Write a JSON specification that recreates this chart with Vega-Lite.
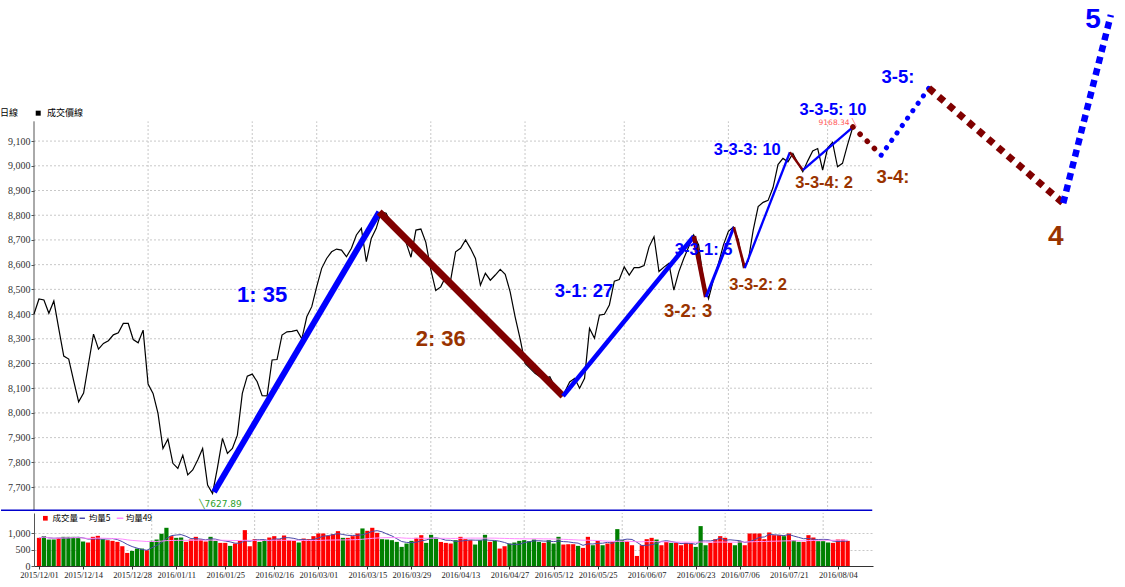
{
  "$schema": "https://vega.github.io/schema/vega-lite/v6.json",
  "background": "white",
  "padding": 0,
  "spacing": 2,
  "bounds": "flush",
  "config": {"view": {"stroke": null}, "font": "Liberation Sans", "axis": {"labelOverlap": false}},
  "resolve": {"scale": {"x": "independent", "y": "independent", "color": "independent", "strokeWidth": "independent"}},
  "datasets": {
    "price": [
      {"d":0,"p":8400},{"d":1,"p":8461},{"d":2,"p":8457},{"d":3,"p":8403},{"d":4,"p":8453},{"d":5,"p":8340},{"d":6,"p":8230},{"d":7,"p":8218},{"d":8,"p":8130},{"d":9,"p":8045},
      {"d":10,"p":8080},{"d":11,"p":8200},{"d":12,"p":8319},{"d":13,"p":8258},{"d":14,"p":8281},{"d":15,"p":8292},{"d":16,"p":8316},{"d":17,"p":8324},{"d":18,"p":8362},{"d":19,"p":8362},
      {"d":20,"p":8297},{"d":21,"p":8284},{"d":22,"p":8335},{"d":23,"p":8117},{"d":24,"p":8079},{"d":25,"p":7998},{"d":26,"p":7856},{"d":27,"p":7894},{"d":28,"p":7796},{"d":29,"p":7775},
      {"d":30,"p":7829},{"d":31,"p":7749},{"d":32,"p":7769},{"d":33,"p":7809},{"d":34,"p":7856},{"d":35,"p":7708},{"d":36,"p":7674},{"d":37,"p":7780},{"d":38,"p":7897},{"d":39,"p":7836},
      {"d":40,"p":7856},{"d":41,"p":7910},{"d":42,"p":8079},{"d":43,"p":8149},{"d":44,"p":8157},{"d":45,"p":8126},{"d":46,"p":8070},{"d":47,"p":8069},{"d":48,"p":8214},{"d":49,"p":8216},
      {"d":50,"p":8315},{"d":51,"p":8328},{"d":52,"p":8330},{"d":53,"p":8335},{"d":54,"p":8300},{"d":55,"p":8389},{"d":56,"p":8430},{"d":57,"p":8511},{"d":58,"p":8585},{"d":59,"p":8625},
      {"d":60,"p":8652},{"d":61,"p":8663},{"d":62,"p":8659},{"d":63,"p":8632},{"d":64,"p":8666},{"d":65,"p":8720},{"d":66,"p":8747},{"d":67,"p":8612},{"d":68,"p":8706},{"d":69,"p":8747},
      {"d":70,"p":8814},{"d":71,"p":8808},{"d":72,"p":8765},{"d":73,"p":8745},{"d":74,"p":8720},{"d":75,"p":8690},{"d":76,"p":8630},{"d":77,"p":8740},{"d":78,"p":8744},{"d":79,"p":8690},
      {"d":80,"p":8580},{"d":81,"p":8495},{"d":82,"p":8510},{"d":83,"p":8551},{"d":84,"p":8537},{"d":85,"p":8652},{"d":86,"p":8666},{"d":87,"p":8700},{"d":88,"p":8666},{"d":89,"p":8625},
      {"d":90,"p":8517},{"d":91,"p":8565},{"d":92,"p":8537},{"d":93,"p":8558},{"d":94,"p":8581},{"d":95,"p":8561},{"d":96,"p":8490},{"d":97,"p":8389},{"d":98,"p":8301},{"d":99,"p":8200},
      {"d":100,"p":8180},{"d":101,"p":8160},{"d":102,"p":8146},{"d":103,"p":8140},{"d":104,"p":8146},{"d":105,"p":8106},{"d":106,"p":8072},{"d":107,"p":8085},{"d":108,"p":8125},{"d":109,"p":8140},
      {"d":110,"p":8100},{"d":111,"p":8140},{"d":112,"p":8342},{"d":113,"p":8302},{"d":114,"p":8396},{"d":115,"p":8399},{"d":116,"p":8437},{"d":117,"p":8533},{"d":118,"p":8540},{"d":119,"p":8591},
      {"d":120,"p":8558},{"d":121,"p":8588},{"d":122,"p":8588},{"d":123,"p":8596},{"d":124,"p":8672},{"d":125,"p":8713},{"d":126,"p":8572},{"d":127,"p":8590},{"d":128,"p":8605},{"d":129,"p":8497},
      {"d":130,"p":8571},{"d":131,"p":8625},{"d":132,"p":8672},{"d":133,"p":8720},{"d":134,"p":8680},{"d":135,"p":8530},{"d":136,"p":8462},{"d":137,"p":8540},{"d":138,"p":8605},{"d":139,"p":8680},
      {"d":140,"p":8735},{"d":141,"p":8752},{"d":142,"p":8700},{"d":143,"p":8590},{"d":144,"p":8615},{"d":145,"p":8740},{"d":146,"p":8835},{"d":147,"p":8852},{"d":148,"p":8860},{"d":149,"p":8912},
      {"d":150,"p":9005},{"d":151,"p":9030},{"d":152,"p":9016},{"d":153,"p":9050},{"d":154,"p":9010},{"d":155,"p":8976},{"d":156,"p":9020},{"d":157,"p":9060},{"d":158,"p":9070},{"d":159,"p":8983},
      {"d":160,"p":9072},{"d":161,"p":9095},{"d":162,"p":8996},{"d":163,"p":9010},{"d":164,"p":9084},{"d":165,"p":9151}
    ],
    "vol": [
      {"d":0,"v":866,"c":"R"},{"d":1,"v":918,"c":"G"},{"d":2,"v":814,"c":"G"},{"d":3,"v":814,"c":"G"},{"d":4,"v":866,"c":"R"},{"d":5,"v":897,"c":"G"},{"d":6,"v":897,"c":"G"},{"d":7,"v":897,"c":"G"},{"d":8,"v":876,"c":"G"},{"d":9,"v":753,"c":"G"},
      {"d":10,"v":722,"c":"R"},{"d":11,"v":897,"c":"R"},{"d":12,"v":928,"c":"R"},{"d":13,"v":825,"c":"G"},{"d":14,"v":794,"c":"R"},{"d":15,"v":773,"c":"R"},{"d":16,"v":742,"c":"R"},{"d":17,"v":608,"c":"R"},{"d":18,"v":402,"c":"R"},{"d":19,"v":464,"c":"G"},
      {"d":20,"v":536,"c":"G"},{"d":21,"v":536,"c":"G"},{"d":22,"v":485,"c":"R"},{"d":23,"v":773,"c":"G"},{"d":24,"v":814,"c":"G"},{"d":25,"v":990,"c":"G"},{"d":26,"v":1175,"c":"G"},{"d":27,"v":918,"c":"R"},{"d":28,"v":866,"c":"G"},{"d":29,"v":876,"c":"G"},
      {"d":30,"v":742,"c":"R"},{"d":31,"v":814,"c":"R"},{"d":32,"v":897,"c":"R"},{"d":33,"v":814,"c":"R"},{"d":34,"v":753,"c":"R"},{"d":35,"v":897,"c":"G"},{"d":36,"v":773,"c":"G"},{"d":37,"v":711,"c":"R"},{"d":38,"v":711,"c":"R"},{"d":39,"v":619,"c":"G"},
      {"d":40,"v":691,"c":"R"},{"d":41,"v":773,"c":"R"},{"d":42,"v":1103,"c":"R"},{"d":43,"v":608,"c":"R"},{"d":44,"v":825,"c":"R"},{"d":45,"v":742,"c":"G"},{"d":46,"v":794,"c":"G"},{"d":47,"v":876,"c":"R"},{"d":48,"v":918,"c":"R"},{"d":49,"v":825,"c":"R"},
      {"d":50,"v":938,"c":"R"},{"d":51,"v":794,"c":"R"},{"d":52,"v":773,"c":"R"},{"d":53,"v":722,"c":"G"},{"d":54,"v":845,"c":"R"},{"d":55,"v":825,"c":"R"},{"d":56,"v":918,"c":"R"},{"d":57,"v":1000,"c":"R"},{"d":58,"v":1000,"c":"R"},{"d":59,"v":928,"c":"R"},
      {"d":60,"v":979,"c":"R"},{"d":61,"v":1072,"c":"R"},{"d":62,"v":866,"c":"G"},{"d":63,"v":866,"c":"R"},{"d":64,"v":918,"c":"R"},{"d":65,"v":1000,"c":"R"},{"d":66,"v":1155,"c":"G"},{"d":67,"v":1082,"c":"R"},{"d":68,"v":1175,"c":"R"},{"d":69,"v":1020,"c":"R"},
      {"d":70,"v":825,"c":"G"},{"d":71,"v":814,"c":"G"},{"d":72,"v":794,"c":"G"},{"d":73,"v":742,"c":"G"},{"d":74,"v":588,"c":"G"},{"d":75,"v":691,"c":"G"},{"d":76,"v":773,"c":"G"},{"d":77,"v":866,"c":"R"},{"d":78,"v":948,"c":"R"},{"d":79,"v":711,"c":"G"},
      {"d":80,"v":959,"c":"G"},{"d":81,"v":845,"c":"G"},{"d":82,"v":740,"c":"R"},{"d":83,"v":711,"c":"R"},{"d":84,"v":691,"c":"R"},{"d":85,"v":794,"c":"G"},{"d":86,"v":897,"c":"R"},{"d":87,"v":825,"c":"R"},{"d":88,"v":794,"c":"R"},{"d":89,"v":660,"c":"G"},
      {"d":90,"v":794,"c":"G"},{"d":91,"v":959,"c":"G"},{"d":92,"v":742,"c":"R"},{"d":93,"v":773,"c":"G"},{"d":94,"v":536,"c":"R"},{"d":95,"v":608,"c":"R"},{"d":96,"v":691,"c":"G"},{"d":97,"v":722,"c":"G"},{"d":98,"v":773,"c":"G"},{"d":99,"v":794,"c":"G"},
      {"d":100,"v":763,"c":"G"},{"d":101,"v":814,"c":"G"},{"d":102,"v":742,"c":"G"},{"d":103,"v":711,"c":"R"},{"d":104,"v":794,"c":"G"},{"d":105,"v":691,"c":"G"},{"d":106,"v":897,"c":"G"},{"d":107,"v":660,"c":"R"},{"d":108,"v":670,"c":"R"},{"d":109,"v":670,"c":"R"},
      {"d":110,"v":619,"c":"G"},{"d":111,"v":557,"c":"R"},{"d":112,"v":897,"c":"R"},{"d":113,"v":639,"c":"G"},{"d":114,"v":773,"c":"R"},{"d":115,"v":639,"c":"G"},{"d":116,"v":691,"c":"R"},{"d":117,"v":742,"c":"R"},{"d":118,"v":1134,"c":"G"},{"d":119,"v":794,"c":"G"},
      {"d":120,"v":773,"c":"R"},{"d":121,"v":639,"c":"R"},{"d":122,"v":309,"c":"R"},{"d":123,"v":639,"c":"R"},{"d":124,"v":825,"c":"R"},{"d":125,"v":866,"c":"R"},{"d":126,"v":814,"c":"G"},{"d":127,"v":639,"c":"R"},{"d":128,"v":742,"c":"R"},{"d":129,"v":711,"c":"G"},
      {"d":130,"v":711,"c":"R"},{"d":131,"v":639,"c":"R"},{"d":132,"v":711,"c":"R"},{"d":133,"v":691,"c":"R"},{"d":134,"v":588,"c":"G"},{"d":135,"v":1227,"c":"G"},{"d":136,"v":639,"c":"G"},{"d":137,"v":711,"c":"R"},{"d":138,"v":825,"c":"R"},{"d":139,"v":918,"c":"R"},
      {"d":140,"v":866,"c":"R"},{"d":141,"v":711,"c":"R"},{"d":142,"v":639,"c":"G"},{"d":143,"v":763,"c":"G"},{"d":144,"v":639,"c":"R"},{"d":145,"v":1000,"c":"R"},{"d":146,"v":1000,"c":"R"},{"d":147,"v":1000,"c":"R"},{"d":148,"v":825,"c":"R"},{"d":149,"v":1031,"c":"R"},
      {"d":150,"v":948,"c":"R"},{"d":151,"v":948,"c":"R"},{"d":152,"v":918,"c":"G"},{"d":153,"v":1000,"c":"R"},{"d":154,"v":794,"c":"G"},{"d":155,"v":742,"c":"G"},{"d":156,"v":742,"c":"R"},{"d":157,"v":948,"c":"R"},{"d":158,"v":876,"c":"R"},{"d":159,"v":763,"c":"G"},
      {"d":160,"v":763,"c":"G"},{"d":161,"v":722,"c":"G"},{"d":162,"v":711,"c":"R"},{"d":163,"v":814,"c":"R"},{"d":164,"v":814,"c":"R"},{"d":165,"v":773,"c":"R"}
    ],
    "waves": [
      {"seg":"1","d":36.3,"p":7680},{"seg":"1","d":69.6,"p":8813},
      {"seg":"2","d":69.6,"p":8813},{"seg":"2","d":106.65,"p":8068},
      {"seg":"3-1","d":106.65,"p":8068},{"seg":"3-1","d":133.06,"p":8715},
      {"seg":"3-2","d":133.06,"p":8715},{"seg":"3-2","d":135.5,"p":8469},
      {"seg":"3-3-1","d":135.5,"p":8469},{"seg":"3-3-1","d":141.1,"p":8752},
      {"seg":"3-3-2","d":141.1,"p":8752},{"seg":"3-3-2","d":143.3,"p":8586},
      {"seg":"3-3-3","d":143.3,"p":8586},{"seg":"3-3-3","d":152.4,"p":9055},
      {"seg":"3-3-4","d":152.4,"p":9055},{"seg":"3-3-4","d":155,"p":8983},
      {"seg":"3-3-5","d":155,"p":8983},{"seg":"3-3-5","d":165.1,"p":9157},
      {"seg":"3-4","d":165.1,"p":9157},{"seg":"3-4","d":170.8,"p":9043},
      {"seg":"3-5","d":170.8,"p":9043},{"seg":"3-5","d":180.4,"p":9314},
      {"seg":"4","d":180.4,"p":9314},{"seg":"4","d":207.5,"p":8849},
      {"seg":"5","d":207.5,"p":8849},{"seg":"5","d":217.1,"p":9610}
    ],
    "labels": [
      {"t":"1: 35","d":46,"p":8477,"k":"up","lvl":"a"},
      {"t":"2: 36","d":82,"p":8299,"k":"down","lvl":"a"},
      {"t":"3-1: 27","d":110.9,"p":8493,"k":"up","lvl":"b"},
      {"t":"3-2: 3","d":131.9,"p":8412,"k":"down","lvl":"b"},
      {"t":"3-3-1: 5","d":135.0,"p":8659,"k":"up","lvl":"c"},
      {"t":"3-3-2: 2","d":146,"p":8517,"k":"down","lvl":"c"},
      {"t":"3-3-3: 10","d":143.8,"p":9064,"k":"up","lvl":"c"},
      {"t":"3-3-4: 2","d":159.3,"p":8930,"k":"down","lvl":"c"},
      {"t":"3-3-5: 10","d":161.1,"p":9225,"k":"up","lvl":"c"},
      {"t":"3-4:","d":173.2,"p":8954,"k":"down","lvl":"b"},
      {"t":"3-5:","d":174.2,"p":9359,"k":"up","lvl":"b"},
      {"t":"4","d":206,"p":8711,"k":"down","lvl":"d"},
      {"t":"5","d":213.5,"p":9590,"k":"up","lvl":"d"}
    ],
    "hgrid": [{"p":7700},{"p":7800},{"p":7900},{"p":8000},{"p":8100},{"p":8200},{"p":8300},{"p":8400},{"p":8500},{"p":8600},{"p":8700},{"p":8800},{"p":8900},{"p":9000},{"p":9100}],
    "vgrid": [{"d":23},{"d":44},{"d":57},{"d":80},{"d":99},{"d":119},{"d":140},{"d":160}]
  },
  "vconcat": [
    {
      "width": 1092,
      "height": 511,
      "resolve": {"scale": {"color": "independent", "strokeWidth": "independent"}},
      "layer": [
        {"data": {"name": "hgrid"}, "mark": {"type": "rule", "color": "#c8c8c8", "strokeDash": [2, 2], "strokeWidth": 1},
         "encoding": {
           "x": {"datum": 0, "type": "quantitative", "scale": {"domain": [0, 220.16], "nice": false, "zero": false}, "axis": null},
           "x2": {"datum": 169},
           "y": {"field": "p", "type": "quantitative", "title": null, "scale": {"domain": [7603, 9671], "nice": false, "zero": false},
                 "axis": {"values": [7700,7800,7900,8000,8100,8200,8300,8400,8500,8600,8700,8800,8900,9000,9100], "labelExpr": "format(datum.value, ',')", "labelOverlap": false, "domain": false, "grid": false, "ticks": true, "tickSize": 3, "tickColor": "#555555", "labelFont": "Liberation Serif", "labelFontSize": 10, "labelColor": "#333333", "labelPadding": 1, "title": null}}}},
        {"data": {"name": "vgrid"}, "mark": {"type": "rule", "color": "#c8c8c8", "strokeDash": [2, 2], "strokeWidth": 1},
         "encoding": {
           "x": {"field": "d", "type": "quantitative", "title": null, "scale": {"domain": [0, 220.16], "nice": false, "zero": false}, "axis": null},
           "y": {"datum": 7603, "type": "quantitative", "scale": {"domain": [7603, 9671], "nice": false, "zero": false},
                 "axis": {"values": [7700,7800,7900,8000,8100,8200,8300,8400,8500,8600,8700,8800,8900,9000,9100], "labelExpr": "format(datum.value, ',')", "labelOverlap": false, "domain": false, "grid": false, "ticks": true, "tickSize": 3, "tickColor": "#555555", "labelFont": "Liberation Serif", "labelFontSize": 10, "labelColor": "#333333", "labelPadding": 1, "title": null}},
           "y2": {"datum": 9180}}},
        {"data": {"values": [{}]}, "mark": {"type": "rule", "color": "#555555", "strokeWidth": 1},
         "encoding": {
           "x": {"datum": 0, "type": "quantitative", "scale": {"domain": [0, 220.16], "nice": false, "zero": false}, "axis": null},
           "y": {"datum": 7603, "type": "quantitative", "scale": {"domain": [7603, 9671], "nice": false, "zero": false},
                 "axis": {"values": [7700,7800,7900,8000,8100,8200,8300,8400,8500,8600,8700,8800,8900,9000,9100], "labelExpr": "format(datum.value, ',')", "labelOverlap": false, "domain": false, "grid": false, "ticks": true, "tickSize": 3, "tickColor": "#555555", "labelFont": "Liberation Serif", "labelFontSize": 10, "labelColor": "#333333", "labelPadding": 1, "title": null}},
           "y2": {"datum": 9180}}},
        {"data": {"values": [{}]}, "mark": {"type": "rule", "color": "#0000cc", "strokeWidth": 1.5},
         "encoding": {
           "x": {"datum": -6.65, "type": "quantitative", "scale": {"domain": [0, 220.16], "nice": false, "zero": false}, "axis": null},
           "x2": {"datum": 169},
           "y": {"datum": 7606, "type": "quantitative", "scale": {"domain": [7603, 9671], "nice": false, "zero": false},
                 "axis": {"values": [7700,7800,7900,8000,8100,8200,8300,8400,8500,8600,8700,8800,8900,9000,9100], "labelExpr": "format(datum.value, ',')", "labelOverlap": false, "domain": false, "grid": false, "ticks": true, "tickSize": 3, "tickColor": "#555555", "labelFont": "Liberation Serif", "labelFontSize": 10, "labelColor": "#333333", "labelPadding": 1, "title": null}}}},
        {"data": {"name": "price"}, "mark": {"type": "line", "color": "black", "strokeWidth": 1.2},
         "encoding": {
           "x": {"field": "d", "type": "quantitative", "title": null, "scale": {"domain": [0, 220.16], "nice": false, "zero": false}, "axis": null},
           "y": {"field": "p", "type": "quantitative", "title": null, "scale": {"domain": [7603, 9671], "nice": false, "zero": false},
                 "axis": {"values": [7700,7800,7900,8000,8100,8200,8300,8400,8500,8600,8700,8800,8900,9000,9100], "labelExpr": "format(datum.value, ',')", "labelOverlap": false, "domain": false, "grid": false, "ticks": true, "tickSize": 3, "tickColor": "#555555", "labelFont": "Liberation Serif", "labelFontSize": 10, "labelColor": "#333333", "labelPadding": 1, "title": null}}}},
        {"data": {"name": "waves"}, "transform": [{"filter": "indexof(['3-4','3-5','4','5'], datum.seg) < 0"}],
         "mark": {"type": "line"},
         "encoding": {
           "x": {"field": "d", "type": "quantitative", "title": null, "scale": {"domain": [0, 220.16], "nice": false, "zero": false}, "axis": null},
           "y": {"field": "p", "type": "quantitative", "title": null, "scale": {"domain": [7603, 9671], "nice": false, "zero": false},
                 "axis": {"values": [7700,7800,7900,8000,8100,8200,8300,8400,8500,8600,8700,8800,8900,9000,9100], "labelExpr": "format(datum.value, ',')", "labelOverlap": false, "domain": false, "grid": false, "ticks": true, "tickSize": 3, "tickColor": "#555555", "labelFont": "Liberation Serif", "labelFontSize": 10, "labelColor": "#333333", "labelPadding": 1, "title": null}},
           "color": {"field": "seg", "type": "nominal", "legend": null,
                     "scale": {"domain": ["1","2","3-1","3-2","3-3-1","3-3-2","3-3-3","3-3-4","3-3-5"], "range": ["#0000ff","#800000","#0000ff","#800000","#0000ff","#800000","#0000ff","#800000","#0000ff"]}},
           "strokeWidth": {"field": "seg", "type": "nominal", "legend": null,
                     "scale": {"type": "ordinal", "domain": ["1","2","3-1","3-2","3-3-1","3-3-2","3-3-3","3-3-4","3-3-5"], "range": [6, 7, 4.6, 4.5, 3, 2.7, 2.3, 2.3, 2.3]}}
         }},
        {"data": {"name": "waves"}, "transform": [{"filter": "datum.seg == '3-4'"}],
         "mark": {"type": "line", "color": "#800000", "strokeWidth": 5.5, "strokeDash": [0.1, 10], "strokeCap": "round"},
         "encoding": {
           "x": {"field": "d", "type": "quantitative", "title": null, "scale": {"domain": [0, 220.16], "nice": false, "zero": false}, "axis": null},
           "y": {"field": "p", "type": "quantitative", "title": null, "scale": {"domain": [7603, 9671], "nice": false, "zero": false},
                 "axis": {"values": [7700,7800,7900,8000,8100,8200,8300,8400,8500,8600,8700,8800,8900,9000,9100], "labelExpr": "format(datum.value, ',')", "labelOverlap": false, "domain": false, "grid": false, "ticks": true, "tickSize": 3, "tickColor": "#555555", "labelFont": "Liberation Serif", "labelFontSize": 10, "labelColor": "#333333", "labelPadding": 1, "title": null}}}},
        {"data": {"name": "waves"}, "transform": [{"filter": "datum.seg == '3-5'"}],
         "mark": {"type": "line", "color": "#0000ff", "strokeWidth": 5, "strokeDash": [0.1, 9], "strokeCap": "round"},
         "encoding": {
           "x": {"field": "d", "type": "quantitative", "title": null, "scale": {"domain": [0, 220.16], "nice": false, "zero": false}, "axis": null},
           "y": {"field": "p", "type": "quantitative", "title": null, "scale": {"domain": [7603, 9671], "nice": false, "zero": false},
                 "axis": {"values": [7700,7800,7900,8000,8100,8200,8300,8400,8500,8600,8700,8800,8900,9000,9100], "labelExpr": "format(datum.value, ',')", "labelOverlap": false, "domain": false, "grid": false, "ticks": true, "tickSize": 3, "tickColor": "#555555", "labelFont": "Liberation Serif", "labelFontSize": 10, "labelColor": "#333333", "labelPadding": 1, "title": null}}}},
        {"data": {"name": "waves"}, "transform": [{"filter": "datum.seg == '4'"}],
         "mark": {"type": "line", "color": "#800000", "strokeWidth": 7, "strokeDash": [7, 6]},
         "encoding": {
           "x": {"field": "d", "type": "quantitative", "title": null, "scale": {"domain": [0, 220.16], "nice": false, "zero": false}, "axis": null},
           "y": {"field": "p", "type": "quantitative", "title": null, "scale": {"domain": [7603, 9671], "nice": false, "zero": false},
                 "axis": {"values": [7700,7800,7900,8000,8100,8200,8300,8400,8500,8600,8700,8800,8900,9000,9100], "labelExpr": "format(datum.value, ',')", "labelOverlap": false, "domain": false, "grid": false, "ticks": true, "tickSize": 3, "tickColor": "#555555", "labelFont": "Liberation Serif", "labelFontSize": 10, "labelColor": "#333333", "labelPadding": 1, "title": null}}}},
        {"data": {"name": "waves"}, "transform": [{"filter": "datum.seg == '5'"}],
         "mark": {"type": "line", "color": "#0000ff", "strokeWidth": 6.5, "strokeDash": [7, 5]},
         "encoding": {
           "x": {"field": "d", "type": "quantitative", "title": null, "scale": {"domain": [0, 220.16], "nice": false, "zero": false}, "axis": null},
           "y": {"field": "p", "type": "quantitative", "title": null, "scale": {"domain": [7603, 9671], "nice": false, "zero": false},
                 "axis": {"values": [7700,7800,7900,8000,8100,8200,8300,8400,8500,8600,8700,8800,8900,9000,9100], "labelExpr": "format(datum.value, ',')", "labelOverlap": false, "domain": false, "grid": false, "ticks": true, "tickSize": 3, "tickColor": "#555555", "labelFont": "Liberation Serif", "labelFontSize": 10, "labelColor": "#333333", "labelPadding": 1, "title": null}}}},
        {"data": {"name": "labels"}, "transform": [{"filter": "datum.lvl == 'a'"}],
         "mark": {"type": "text", "fontWeight": "bold", "font": "Liberation Sans", "fontSize": 22, "align": "center", "baseline": "middle"},
         "encoding": {
           "x": {"field": "d", "type": "quantitative", "title": null, "scale": {"domain": [0, 220.16], "nice": false, "zero": false}, "axis": null},
           "y": {"field": "p", "type": "quantitative", "title": null, "scale": {"domain": [7603, 9671], "nice": false, "zero": false},
                 "axis": {"values": [7700,7800,7900,8000,8100,8200,8300,8400,8500,8600,8700,8800,8900,9000,9100], "labelExpr": "format(datum.value, ',')", "labelOverlap": false, "domain": false, "grid": false, "ticks": true, "tickSize": 3, "tickColor": "#555555", "labelFont": "Liberation Serif", "labelFontSize": 10, "labelColor": "#333333", "labelPadding": 1, "title": null}},
           "text": {"field": "t"},
           "color": {"field": "k", "type": "nominal", "legend": null, "scale": {"domain": ["up", "down"], "range": ["#0000ff", "#993300"]}}}},
        {"data": {"name": "labels"}, "transform": [{"filter": "datum.lvl == 'b'"}],
         "mark": {"type": "text", "fontWeight": "bold", "font": "Liberation Sans", "fontSize": 18.5, "align": "center", "baseline": "middle"},
         "encoding": {
           "x": {"field": "d", "type": "quantitative", "title": null, "scale": {"domain": [0, 220.16], "nice": false, "zero": false}, "axis": null},
           "y": {"field": "p", "type": "quantitative", "title": null, "scale": {"domain": [7603, 9671], "nice": false, "zero": false},
                 "axis": {"values": [7700,7800,7900,8000,8100,8200,8300,8400,8500,8600,8700,8800,8900,9000,9100], "labelExpr": "format(datum.value, ',')", "labelOverlap": false, "domain": false, "grid": false, "ticks": true, "tickSize": 3, "tickColor": "#555555", "labelFont": "Liberation Serif", "labelFontSize": 10, "labelColor": "#333333", "labelPadding": 1, "title": null}},
           "text": {"field": "t"},
           "color": {"field": "k", "type": "nominal", "legend": null, "scale": {"domain": ["up", "down"], "range": ["#0000ff", "#993300"]}}}},
        {"data": {"name": "labels"}, "transform": [{"filter": "datum.lvl == 'c'"}],
         "mark": {"type": "text", "fontWeight": "bold", "font": "Liberation Sans", "fontSize": 16.5, "align": "center", "baseline": "middle"},
         "encoding": {
           "x": {"field": "d", "type": "quantitative", "title": null, "scale": {"domain": [0, 220.16], "nice": false, "zero": false}, "axis": null},
           "y": {"field": "p", "type": "quantitative", "title": null, "scale": {"domain": [7603, 9671], "nice": false, "zero": false},
                 "axis": {"values": [7700,7800,7900,8000,8100,8200,8300,8400,8500,8600,8700,8800,8900,9000,9100], "labelExpr": "format(datum.value, ',')", "labelOverlap": false, "domain": false, "grid": false, "ticks": true, "tickSize": 3, "tickColor": "#555555", "labelFont": "Liberation Serif", "labelFontSize": 10, "labelColor": "#333333", "labelPadding": 1, "title": null}},
           "text": {"field": "t"},
           "color": {"field": "k", "type": "nominal", "legend": null, "scale": {"domain": ["up", "down"], "range": ["#0000ff", "#993300"]}}}},
        {"data": {"name": "labels"}, "transform": [{"filter": "datum.lvl == 'd'"}],
         "mark": {"type": "text", "fontWeight": "bold", "font": "Liberation Sans", "fontSize": 28, "align": "center", "baseline": "middle"},
         "encoding": {
           "x": {"field": "d", "type": "quantitative", "title": null, "scale": {"domain": [0, 220.16], "nice": false, "zero": false}, "axis": null},
           "y": {"field": "p", "type": "quantitative", "title": null, "scale": {"domain": [7603, 9671], "nice": false, "zero": false},
                 "axis": {"values": [7700,7800,7900,8000,8100,8200,8300,8400,8500,8600,8700,8800,8900,9000,9100], "labelExpr": "format(datum.value, ',')", "labelOverlap": false, "domain": false, "grid": false, "ticks": true, "tickSize": 3, "tickColor": "#555555", "labelFont": "Liberation Serif", "labelFontSize": 10, "labelColor": "#333333", "labelPadding": 1, "title": null}},
           "text": {"field": "t"},
           "color": {"field": "k", "type": "nominal", "legend": null, "scale": {"domain": ["up", "down"], "range": ["#0000ff", "#993300"]}}}},
        {"data": {"values": [{}]}, "mark": {"type": "text", "text": "9168.34 ╲", "color": "#ff5a5a", "fontSize": 7.5, "font": "DejaVu Sans", "align": "center", "baseline": "middle"},
         "encoding": {
           "x": {"datum": 162.0, "type": "quantitative", "scale": {"domain": [0, 220.16], "nice": false, "zero": false}, "axis": null},
           "y": {"datum": 9174, "type": "quantitative", "scale": {"domain": [7603, 9671], "nice": false, "zero": false},
                 "axis": {"values": [7700,7800,7900,8000,8100,8200,8300,8400,8500,8600,8700,8800,8900,9000,9100], "labelExpr": "format(datum.value, ',')", "labelOverlap": false, "domain": false, "grid": false, "ticks": true, "tickSize": 3, "tickColor": "#555555", "labelFont": "Liberation Serif", "labelFontSize": 10, "labelColor": "#333333", "labelPadding": 1, "title": null}}}},
        {"data": {"values": [{}]}, "mark": {"type": "text", "text": "╲7627.89", "color": "#2ca02c", "fontSize": 9, "font": "DejaVu Sans", "align": "left", "baseline": "middle"},
         "encoding": {
           "x": {"datum": 33.3, "type": "quantitative", "scale": {"domain": [0, 220.16], "nice": false, "zero": false}, "axis": null},
           "y": {"datum": 7630, "type": "quantitative", "scale": {"domain": [7603, 9671], "nice": false, "zero": false},
                 "axis": {"values": [7700,7800,7900,8000,8100,8200,8300,8400,8500,8600,8700,8800,8900,9000,9100], "labelExpr": "format(datum.value, ',')", "labelOverlap": false, "domain": false, "grid": false, "ticks": true, "tickSize": 3, "tickColor": "#555555", "labelFont": "Liberation Serif", "labelFontSize": 10, "labelColor": "#333333", "labelPadding": 1, "title": null}}}},
        {"data": {"values": [{}]}, "mark": {"type": "text", "text": "日線", "color": "black", "fontSize": 9, "font": "Noto Sans CJK TC", "align": "right", "baseline": "middle"},
         "encoding": {
           "x": {"datum": -3.2, "type": "quantitative", "scale": {"domain": [0, 220.16], "nice": false, "zero": false}, "axis": null},
           "y": {"datum": 9213, "type": "quantitative", "scale": {"domain": [7603, 9671], "nice": false, "zero": false},
                 "axis": {"values": [7700,7800,7900,8000,8100,8200,8300,8400,8500,8600,8700,8800,8900,9000,9100], "labelExpr": "format(datum.value, ',')", "labelOverlap": false, "domain": false, "grid": false, "ticks": true, "tickSize": 3, "tickColor": "#555555", "labelFont": "Liberation Serif", "labelFontSize": 10, "labelColor": "#333333", "labelPadding": 1, "title": null}}}},
        {"data": {"values": [{}]}, "mark": {"type": "point", "shape": "square", "filled": true, "color": "black", "size": 25, "opacity": 1},
         "encoding": {
           "x": {"datum": 0.85, "type": "quantitative", "scale": {"domain": [0, 220.16], "nice": false, "zero": false}, "axis": null},
           "y": {"datum": 9213, "type": "quantitative", "scale": {"domain": [7603, 9671], "nice": false, "zero": false},
                 "axis": {"values": [7700,7800,7900,8000,8100,8200,8300,8400,8500,8600,8700,8800,8900,9000,9100], "labelExpr": "format(datum.value, ',')", "labelOverlap": false, "domain": false, "grid": false, "ticks": true, "tickSize": 3, "tickColor": "#555555", "labelFont": "Liberation Serif", "labelFontSize": 10, "labelColor": "#333333", "labelPadding": 1, "title": null}}}},
        {"data": {"values": [{}]}, "mark": {"type": "text", "text": "成交價線", "color": "black", "fontSize": 9, "font": "Noto Sans CJK TC", "align": "left", "baseline": "middle"},
         "encoding": {
           "x": {"datum": 2.6, "type": "quantitative", "scale": {"domain": [0, 220.16], "nice": false, "zero": false}, "axis": null},
           "y": {"datum": 9213, "type": "quantitative", "scale": {"domain": [7603, 9671], "nice": false, "zero": false},
                 "axis": {"values": [7700,7800,7900,8000,8100,8200,8300,8400,8500,8600,8700,8800,8900,9000,9100], "labelExpr": "format(datum.value, ',')", "labelOverlap": false, "domain": false, "grid": false, "ticks": true, "tickSize": 3, "tickColor": "#555555", "labelFont": "Liberation Serif", "labelFontSize": 10, "labelColor": "#333333", "labelPadding": 1, "title": null}}}}
      ]
    },
    {
      "width": 839,
      "height": 53,
      "layer": [
        {"data": {"name": "vgrid"}, "mark": {"type": "rule", "color": "#c8c8c8", "strokeDash": [2, 2], "strokeWidth": 1},
         "encoding": {
           "x": {"field": "d", "type": "quantitative", "title": null, "scale": {"domain": [0, 169.15], "nice": false, "zero": false},
                 "axis": {"values": [0,9,19,28,38,48,57,67,76,86,96,105,114,124,134,143,153,163], "labelExpr": "['2015/12/01','2015/12/14','2015/12/28','2016/01/11','2016/01/25','2016/02/16','2016/03/01','2016/03/15','2016/03/29','2016/04/13','2016/04/27','2016/05/12','2016/05/25','2016/06/07','2016/06/23','2016/07/06','2016/07/21','2016/08/04'][indexof([0,9,19,28,38,48,57,67,76,86,96,105,114,124,134,143,153,163], datum.value)]", "grid": false, "tickSize": 3, "tickColor": "#333333", "domainColor": "#333333", "labelFont": "Liberation Serif", "labelFontSize": 8.5, "labelColor": "#222222", "labelPadding": 1, "labelFlush": false, "labelOverlap": false, "title": null}},
           "y": {"datum": 0, "type": "quantitative", "scale": {"domain": [0, 1630], "nice": false},
                 "axis": {"values": [0, 500, 1000], "labelExpr": "format(datum.value, ',')", "labelOverlap": false, "grid": true, "gridDash": [2, 2], "gridColor": "#c8c8c8", "tickSize": 3, "tickColor": "#555555", "domainColor": "#555555", "labelFont": "Liberation Serif", "labelFontSize": 10, "labelColor": "#333333", "labelPadding": 1, "title": null}},
           "y2": {"datum": 1630}}},
        {"data": {"name": "vol"}, "mark": {"type": "bar", "width": 4.2},
         "encoding": {
           "x": {"field": "d", "type": "quantitative", "title": null, "scale": {"domain": [0, 169.15], "nice": false, "zero": false},
                 "axis": {"values": [0,9,19,28,38,48,57,67,76,86,96,105,114,124,134,143,153,163], "labelExpr": "['2015/12/01','2015/12/14','2015/12/28','2016/01/11','2016/01/25','2016/02/16','2016/03/01','2016/03/15','2016/03/29','2016/04/13','2016/04/27','2016/05/12','2016/05/25','2016/06/07','2016/06/23','2016/07/06','2016/07/21','2016/08/04'][indexof([0,9,19,28,38,48,57,67,76,86,96,105,114,124,134,143,153,163], datum.value)]", "grid": false, "tickSize": 3, "tickColor": "#333333", "domainColor": "#333333", "labelFont": "Liberation Serif", "labelFontSize": 8.5, "labelColor": "#222222", "labelPadding": 1, "labelFlush": false, "labelOverlap": false, "title": null}},
           "y": {"field": "v", "type": "quantitative", "title": null, "scale": {"domain": [0, 1630], "nice": false},
                 "axis": {"values": [0, 500, 1000], "labelExpr": "format(datum.value, ',')", "labelOverlap": false, "grid": true, "gridDash": [2, 2], "gridColor": "#c8c8c8", "tickSize": 3, "tickColor": "#555555", "domainColor": "#555555", "labelFont": "Liberation Serif", "labelFontSize": 10, "labelColor": "#333333", "labelPadding": 1, "title": null}},
           "color": {"field": "c", "type": "nominal", "legend": null, "scale": {"domain": ["R", "G"], "range": ["#ff0000", "#008000"]}}
         }},
        {"data": {"name": "vol"}, "transform": [{"window": [{"op": "mean", "field": "v", "as": "ma5"}], "frame": [-4, 0], "sort": [{"field": "d"}]}],
         "mark": {"type": "line", "color": "#4a4aa8", "strokeWidth": 1},
         "encoding": {
           "x": {"field": "d", "type": "quantitative", "title": null, "scale": {"domain": [0, 169.15], "nice": false, "zero": false},
                 "axis": {"values": [0,9,19,28,38,48,57,67,76,86,96,105,114,124,134,143,153,163], "labelExpr": "['2015/12/01','2015/12/14','2015/12/28','2016/01/11','2016/01/25','2016/02/16','2016/03/01','2016/03/15','2016/03/29','2016/04/13','2016/04/27','2016/05/12','2016/05/25','2016/06/07','2016/06/23','2016/07/06','2016/07/21','2016/08/04'][indexof([0,9,19,28,38,48,57,67,76,86,96,105,114,124,134,143,153,163], datum.value)]", "grid": false, "tickSize": 3, "tickColor": "#333333", "domainColor": "#333333", "labelFont": "Liberation Serif", "labelFontSize": 8.5, "labelColor": "#222222", "labelPadding": 1, "labelFlush": false, "labelOverlap": false, "title": null}},
           "y": {"field": "ma5", "type": "quantitative", "title": null, "scale": {"domain": [0, 1630], "nice": false},
                 "axis": {"values": [0, 500, 1000], "labelExpr": "format(datum.value, ',')", "labelOverlap": false, "grid": true, "gridDash": [2, 2], "gridColor": "#c8c8c8", "tickSize": 3, "tickColor": "#555555", "domainColor": "#555555", "labelFont": "Liberation Serif", "labelFontSize": 10, "labelColor": "#333333", "labelPadding": 1, "title": null}}}},
        {"data": {"name": "vol"}, "transform": [{"window": [{"op": "mean", "field": "v", "as": "ma49"}], "frame": [-48, 0], "sort": [{"field": "d"}]}],
         "mark": {"type": "line", "color": "#ff8cff", "strokeWidth": 1},
         "encoding": {
           "x": {"field": "d", "type": "quantitative", "title": null, "scale": {"domain": [0, 169.15], "nice": false, "zero": false},
                 "axis": {"values": [0,9,19,28,38,48,57,67,76,86,96,105,114,124,134,143,153,163], "labelExpr": "['2015/12/01','2015/12/14','2015/12/28','2016/01/11','2016/01/25','2016/02/16','2016/03/01','2016/03/15','2016/03/29','2016/04/13','2016/04/27','2016/05/12','2016/05/25','2016/06/07','2016/06/23','2016/07/06','2016/07/21','2016/08/04'][indexof([0,9,19,28,38,48,57,67,76,86,96,105,114,124,134,143,153,163], datum.value)]", "grid": false, "tickSize": 3, "tickColor": "#333333", "domainColor": "#333333", "labelFont": "Liberation Serif", "labelFontSize": 8.5, "labelColor": "#222222", "labelPadding": 1, "labelFlush": false, "labelOverlap": false, "title": null}},
           "y": {"field": "ma49", "type": "quantitative", "title": null, "scale": {"domain": [0, 1630], "nice": false},
                 "axis": {"values": [0, 500, 1000], "labelExpr": "format(datum.value, ',')", "labelOverlap": false, "grid": true, "gridDash": [2, 2], "gridColor": "#c8c8c8", "tickSize": 3, "tickColor": "#555555", "domainColor": "#555555", "labelFont": "Liberation Serif", "labelFontSize": 10, "labelColor": "#333333", "labelPadding": 1, "title": null}}}},
        {"data": {"values": [{}]}, "mark": {"type": "point", "shape": "square", "filled": true, "color": "#ff0000", "size": 22, "opacity": 1},
         "encoding": {
           "x": {"datum": 1.3, "type": "quantitative", "scale": {"domain": [0, 169.15], "nice": false, "zero": false},
                 "axis": {"values": [0,9,19,28,38,48,57,67,76,86,96,105,114,124,134,143,153,163], "labelExpr": "['2015/12/01','2015/12/14','2015/12/28','2016/01/11','2016/01/25','2016/02/16','2016/03/01','2016/03/15','2016/03/29','2016/04/13','2016/04/27','2016/05/12','2016/05/25','2016/06/07','2016/06/23','2016/07/06','2016/07/21','2016/08/04'][indexof([0,9,19,28,38,48,57,67,76,86,96,105,114,124,134,143,153,163], datum.value)]", "grid": false, "tickSize": 3, "tickColor": "#333333", "domainColor": "#333333", "labelFont": "Liberation Serif", "labelFontSize": 8.5, "labelColor": "#222222", "labelPadding": 1, "labelFlush": false, "labelOverlap": false, "title": null}},
           "y": {"datum": 1468, "type": "quantitative", "scale": {"domain": [0, 1630], "nice": false},
                 "axis": {"values": [0, 500, 1000], "labelExpr": "format(datum.value, ',')", "labelOverlap": false, "grid": true, "gridDash": [2, 2], "gridColor": "#c8c8c8", "tickSize": 3, "tickColor": "#555555", "domainColor": "#555555", "labelFont": "Liberation Serif", "labelFontSize": 10, "labelColor": "#333333", "labelPadding": 1, "title": null}}}},
        {"data": {"values": [{}]}, "mark": {"type": "text", "text": "成交量", "color": "black", "fontSize": 8.5, "font": "Noto Sans CJK TC", "align": "left", "baseline": "middle"},
         "encoding": {
           "x": {"datum": 2.76, "type": "quantitative", "scale": {"domain": [0, 169.15], "nice": false, "zero": false},
                 "axis": {"values": [0,9,19,28,38,48,57,67,76,86,96,105,114,124,134,143,153,163], "labelExpr": "['2015/12/01','2015/12/14','2015/12/28','2016/01/11','2016/01/25','2016/02/16','2016/03/01','2016/03/15','2016/03/29','2016/04/13','2016/04/27','2016/05/12','2016/05/25','2016/06/07','2016/06/23','2016/07/06','2016/07/21','2016/08/04'][indexof([0,9,19,28,38,48,57,67,76,86,96,105,114,124,134,143,153,163], datum.value)]", "grid": false, "tickSize": 3, "tickColor": "#333333", "domainColor": "#333333", "labelFont": "Liberation Serif", "labelFontSize": 8.5, "labelColor": "#222222", "labelPadding": 1, "labelFlush": false, "labelOverlap": false, "title": null}},
           "y": {"datum": 1468, "type": "quantitative", "scale": {"domain": [0, 1630], "nice": false},
                 "axis": {"values": [0, 500, 1000], "labelExpr": "format(datum.value, ',')", "labelOverlap": false, "grid": true, "gridDash": [2, 2], "gridColor": "#c8c8c8", "tickSize": 3, "tickColor": "#555555", "domainColor": "#555555", "labelFont": "Liberation Serif", "labelFontSize": 10, "labelColor": "#333333", "labelPadding": 1, "title": null}}}},
        {"data": {"values": [{}]}, "mark": {"type": "rule", "color": "#4a4aa8", "strokeWidth": 1.5},
         "encoding": {
           "x": {"datum": 8.27, "type": "quantitative", "scale": {"domain": [0, 169.15], "nice": false, "zero": false},
                 "axis": {"values": [0,9,19,28,38,48,57,67,76,86,96,105,114,124,134,143,153,163], "labelExpr": "['2015/12/01','2015/12/14','2015/12/28','2016/01/11','2016/01/25','2016/02/16','2016/03/01','2016/03/15','2016/03/29','2016/04/13','2016/04/27','2016/05/12','2016/05/25','2016/06/07','2016/06/23','2016/07/06','2016/07/21','2016/08/04'][indexof([0,9,19,28,38,48,57,67,76,86,96,105,114,124,134,143,153,163], datum.value)]", "grid": false, "tickSize": 3, "tickColor": "#333333", "domainColor": "#333333", "labelFont": "Liberation Serif", "labelFontSize": 8.5, "labelColor": "#222222", "labelPadding": 1, "labelFlush": false, "labelOverlap": false, "title": null}},
           "x2": {"datum": 9.37},
           "y": {"datum": 1468, "type": "quantitative", "scale": {"domain": [0, 1630], "nice": false},
                 "axis": {"values": [0, 500, 1000], "labelExpr": "format(datum.value, ',')", "labelOverlap": false, "grid": true, "gridDash": [2, 2], "gridColor": "#c8c8c8", "tickSize": 3, "tickColor": "#555555", "domainColor": "#555555", "labelFont": "Liberation Serif", "labelFontSize": 10, "labelColor": "#333333", "labelPadding": 1, "title": null}}}},
        {"data": {"values": [{}]}, "mark": {"type": "text", "text": "均量5", "color": "black", "fontSize": 8.5, "font": "Noto Sans CJK TC", "align": "left", "baseline": "middle"},
         "encoding": {
           "x": {"datum": 10.14, "type": "quantitative", "scale": {"domain": [0, 169.15], "nice": false, "zero": false},
                 "axis": {"values": [0,9,19,28,38,48,57,67,76,86,96,105,114,124,134,143,153,163], "labelExpr": "['2015/12/01','2015/12/14','2015/12/28','2016/01/11','2016/01/25','2016/02/16','2016/03/01','2016/03/15','2016/03/29','2016/04/13','2016/04/27','2016/05/12','2016/05/25','2016/06/07','2016/06/23','2016/07/06','2016/07/21','2016/08/04'][indexof([0,9,19,28,38,48,57,67,76,86,96,105,114,124,134,143,153,163], datum.value)]", "grid": false, "tickSize": 3, "tickColor": "#333333", "domainColor": "#333333", "labelFont": "Liberation Serif", "labelFontSize": 8.5, "labelColor": "#222222", "labelPadding": 1, "labelFlush": false, "labelOverlap": false, "title": null}},
           "y": {"datum": 1468, "type": "quantitative", "scale": {"domain": [0, 1630], "nice": false},
                 "axis": {"values": [0, 500, 1000], "labelExpr": "format(datum.value, ',')", "labelOverlap": false, "grid": true, "gridDash": [2, 2], "gridColor": "#c8c8c8", "tickSize": 3, "tickColor": "#555555", "domainColor": "#555555", "labelFont": "Liberation Serif", "labelFontSize": 10, "labelColor": "#333333", "labelPadding": 1, "title": null}}}},
        {"data": {"values": [{}]}, "mark": {"type": "rule", "color": "#ff8cff", "strokeWidth": 1.5},
         "encoding": {
           "x": {"datum": 15.87, "type": "quantitative", "scale": {"domain": [0, 169.15], "nice": false, "zero": false},
                 "axis": {"values": [0,9,19,28,38,48,57,67,76,86,96,105,114,124,134,143,153,163], "labelExpr": "['2015/12/01','2015/12/14','2015/12/28','2016/01/11','2016/01/25','2016/02/16','2016/03/01','2016/03/15','2016/03/29','2016/04/13','2016/04/27','2016/05/12','2016/05/25','2016/06/07','2016/06/23','2016/07/06','2016/07/21','2016/08/04'][indexof([0,9,19,28,38,48,57,67,76,86,96,105,114,124,134,143,153,163], datum.value)]", "grid": false, "tickSize": 3, "tickColor": "#333333", "domainColor": "#333333", "labelFont": "Liberation Serif", "labelFontSize": 8.5, "labelColor": "#222222", "labelPadding": 1, "labelFlush": false, "labelOverlap": false, "title": null}},
           "x2": {"datum": 17.2},
           "y": {"datum": 1468, "type": "quantitative", "scale": {"domain": [0, 1630], "nice": false},
                 "axis": {"values": [0, 500, 1000], "labelExpr": "format(datum.value, ',')", "labelOverlap": false, "grid": true, "gridDash": [2, 2], "gridColor": "#c8c8c8", "tickSize": 3, "tickColor": "#555555", "domainColor": "#555555", "labelFont": "Liberation Serif", "labelFontSize": 10, "labelColor": "#333333", "labelPadding": 1, "title": null}}}},
        {"data": {"values": [{}]}, "mark": {"type": "text", "text": "均量49", "color": "black", "fontSize": 8.5, "font": "Noto Sans CJK TC", "align": "left", "baseline": "middle"},
         "encoding": {
           "x": {"datum": 17.68, "type": "quantitative", "scale": {"domain": [0, 169.15], "nice": false, "zero": false},
                 "axis": {"values": [0,9,19,28,38,48,57,67,76,86,96,105,114,124,134,143,153,163], "labelExpr": "['2015/12/01','2015/12/14','2015/12/28','2016/01/11','2016/01/25','2016/02/16','2016/03/01','2016/03/15','2016/03/29','2016/04/13','2016/04/27','2016/05/12','2016/05/25','2016/06/07','2016/06/23','2016/07/06','2016/07/21','2016/08/04'][indexof([0,9,19,28,38,48,57,67,76,86,96,105,114,124,134,143,153,163], datum.value)]", "grid": false, "tickSize": 3, "tickColor": "#333333", "domainColor": "#333333", "labelFont": "Liberation Serif", "labelFontSize": 8.5, "labelColor": "#222222", "labelPadding": 1, "labelFlush": false, "labelOverlap": false, "title": null}},
           "y": {"datum": 1468, "type": "quantitative", "scale": {"domain": [0, 1630], "nice": false},
                 "axis": {"values": [0, 500, 1000], "labelExpr": "format(datum.value, ',')", "labelOverlap": false, "grid": true, "gridDash": [2, 2], "gridColor": "#c8c8c8", "tickSize": 3, "tickColor": "#555555", "domainColor": "#555555", "labelFont": "Liberation Serif", "labelFontSize": 10, "labelColor": "#333333", "labelPadding": 1, "title": null}}}}
      ]
    }
  ]
}
